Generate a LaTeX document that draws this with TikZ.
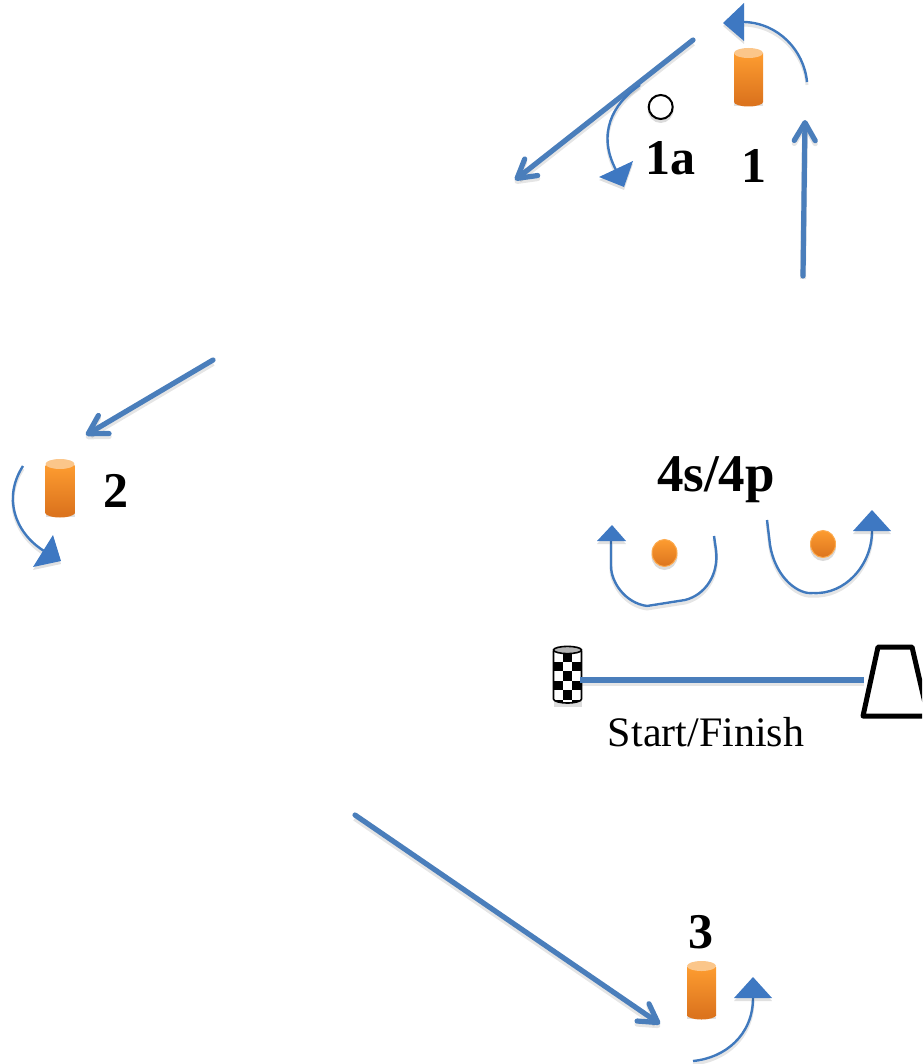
\documentclass[tikz,border=0pt]{standalone}
\usepackage{fontspec}
\setmainfont{Liberation Serif}
\usetikzlibrary{arrows.meta}
\definecolor{thickblue}{HTML}{4A7EBB}
\definecolor{thinblue}{HTML}{4079BD}
\definecolor{headblue}{HTML}{3E78C2}
\definecolor{orangetop}{HTML}{FD9C30}
\definecolor{orangebot}{HTML}{DC741E}
\definecolor{orangecap}{HTML}{FBC68A}
\tikzset{
  softshadow/.style={preaction={draw=black,opacity=.10,line width=#1,transform canvas={yshift=-3pt}}},
  straightarrow/.style={draw=thickblue,line width=5.2pt,line cap=round,softshadow=6pt,
    -{Straight Barb[length=18pt,width=21pt,line width=5.2pt,round]}},
  thincurve/.style={draw=thinblue,line width=2.4pt,softshadow=3pt},
  bighead/.style={fill=headblue,preaction={fill=black,opacity=.12,transform canvas={yshift=-3pt}}},
  numlabel/.style={anchor=base,inner sep=0pt,font=\fontsize{50}{50}\selectfont\bfseries},
  sflabel/.style={anchor=base,inner sep=0pt,font=\fontsize{42}{42}\selectfont},
  dotshadow/.style={fill=black,opacity=.14}
}
\newcommand{\orangedrum}[2]{% #1 left x, #2 top y: 29 wide, 59 tall
  \fill[black,opacity=.12] (#1,#2+8) rectangle (#1+29,#2+58);
  \fill[orangebot] (#1+14.5,#2+54) ellipse [x radius=14.5,y radius=4.5];
  \path[top color=orangetop,bottom color=orangebot]
    (#1,#2+6) rectangle (#1+29,#2+54);
  \fill[orangecap] (#1+14.5,#2+5) ellipse [x radius=14.5,y radius=5];
}
\newcommand{\orangedot}[2]{%
  \fill[dotshadow] (#1,#2+3) ellipse [x radius=13,y radius=14];
  \path[top color=orangetop,bottom color=orangebot,draw=orangetop!85!white,line width=1pt]
    (#1,#2) ellipse [x radius=12.5,y radius=13.5];
}
\begin{document}
\begin{tikzpicture}[x=1pt,y=-1pt]
\useasboundingbox (0,0) rectangle (922,1064);
\clip (0,0) rectangle (922,1064);

% cones and dots
\orangedrum{734}{48}
\orangedrum{45.5}{459}
\orangedrum{687}{961}
\orangedot{664.5}{553}
\orangedot{823}{544}

% small marker at 1a
\fill[dotshadow] (660.7,109) ellipse [x radius=13,y radius=14];
\node (marker) [draw=black,fill=white,line width=2pt,inner sep=0pt,
  shape=circle,minimum size=24pt] at (660.7,107) {};

% straight arrows
\coordinate (a1s) at (803,276); \coordinate (a1e) at (805,120);
\coordinate (a2s) at (693,40);  \coordinate (a2e) at (515,180);
\coordinate (a3s) at (213,360); \coordinate (a3e) at (86,435);
\coordinate (a4s) at (355,815); \coordinate (a4e) at (660,1024);
\draw[straightarrow] (a1s) -- (a1e);
\draw[straightarrow] (a2s) -- (a2e);
\draw[straightarrow] (a3s) -- (a3e);
\draw[straightarrow] (a4s) -- (a4e);

% thin curves
\coordinate (c1s) at (807,82);  \coordinate (c1e) at (744,22);
\coordinate (c2s) at (640,85);  \coordinate (c2e) at (616,170);
\coordinate (c3s) at (23,466);  \coordinate (c3e) at (44,551);
\coordinate (c4s) at (693,1061);\coordinate (c4e) at (753,998);
\coordinate (c5s) at (767,520); \coordinate (c5e) at (872,531);
\coordinate (c6s) at (714,536); \coordinate (c6e) at (611,541);
\draw[thincurve] (c1s) .. controls (804,50) and (778,23) .. (c1e);
\draw[thincurve] (c2s) .. controls (612,104) and (597,134) .. (c2e);
\draw[thincurve] (c3s) .. controls (3,497) and (14,532) .. (c3e);
\draw[thincurve] (c4s) .. controls (725,1058) and (753,1035) .. (c4e);
\draw[thincurve] (c5s) -- (770,545) .. controls (776,580) and (800,595) .. (813,593)
   .. controls (845,595) and (872,565) .. (c5e);
\draw[thincurve] (c6s) -- (716,550) .. controls (719,575) and (705,595) .. (685,600)
   -- (647,606) .. controls (625,603) and (611,582) .. (611,566) -- (c6e);

% big arrowheads
\fill[bighead] (723,23) -- (744,3) -- (744,41) -- cycle;
\fill[bighead] (599,177) -- (633,161) -- (624,187) -- cycle;
\fill[bighead] (33,567) -- (53,535) -- (61,561) -- cycle;
\fill[bighead] (753,977) -- (734,998) -- (772,998) -- cycle;
\fill[bighead] (872,510) -- (853,531) -- (891,531) -- cycle;
\fill[bighead] (612,525) -- (597,541) -- (626,541) -- cycle;

% chequered start post
\fill[black,opacity=.14] (554,652) rectangle (582,707);
\begin{scope}
  \clip (553.5,650) -- (553.5,699) arc[start angle=180,end angle=360,x radius=14,y radius=-4] -- (581.5,650) -- cycle;
  \fill[white] (553,645) rectangle (582,705);
  \foreach \r in {0,...,5}{
    \foreach \c in {0,1,2}{
      \pgfmathparse{int(mod(\r+\c,2))}
      \ifnum\pgfmathresult=1
        \fill[black] (553.5+\c*9.4,652+\r*9.6) rectangle ++(9.4,9.6);
      \fi
    }
  }
\end{scope}
\draw[black,line width=1.6pt] (553.5,651) -- (553.5,699) arc[start angle=180,end angle=360,x radius=14,y radius=-4] -- (581.5,651);
\draw[black,line width=1.6pt,fill=black!30] (567.5,650) ellipse [x radius=14,y radius=3.6];
\coordinate (postR) at (580,680);

% timing gate
\coordinate (gL) at (863,716);
\coordinate (gT1) at (878,647);
\coordinate (gT2) at (912,647);
\coordinate (gR) at (928,716);
\draw[black,line width=5pt,line join=round] (gL) -- (gT1) -- (gT2) -- (gR) -- cycle;
\coordinate (gateL) at (864,680);
\draw[thickblue,line width=5.2pt,softshadow=6pt] (postR) -- (gateL);

% labels
\node (l1a) [numlabel] at (670,175) {1a};
\node (l1) [numlabel] at (754,183) {1};
\node (l2) [numlabel] at (116,507) {2};
\node (l3) [numlabel] at (701,948) {3};
\node (l4) [numlabel,font=\fontsize{53}{53}\selectfont\bfseries] at (716,491) {4s/4p};
\node (lsf) [sflabel] at (706,746) {Start/Finish};
\end{tikzpicture}
\end{document}
